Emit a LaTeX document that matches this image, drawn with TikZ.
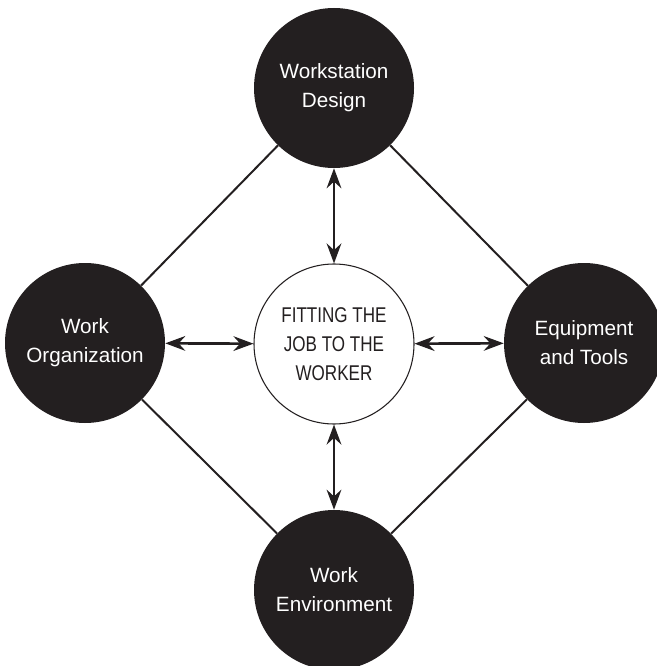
\documentclass[tikz,border=0pt]{standalone}
\usepackage{fontspec}
\setmainfont{Liberation Sans}
\newfontfamily\hubfont[FakeStretch=0.8]{Liberation Sans}
\usetikzlibrary{arrows.meta}
\definecolor{darkfill}{HTML}{231F20}

\begin{document}
\begin{tikzpicture}[x=0.75pt, y=-0.75pt,
    outer/.style={circle, fill=darkfill, minimum size=120pt, inner sep=0pt,
      text=white, align=center, font=\fontsize{15.5}{21.75}\selectfont},
    hub/.style={circle, draw=darkfill, line width=0.8pt, minimum size=120pt,
      inner sep=0pt, text=darkfill, align=center,
      font=\hubfont\fontsize{16}{21.75}\selectfont},
    link/.style={draw=darkfill, line width=1.5pt},
    twoway/.style={draw=darkfill, line width=2pt,
      {Stealth[length=15pt,width=11pt,inset=5pt]}-{Stealth[length=15pt,width=11pt,inset=5pt]}}]
  \useasboundingbox (0,0) rectangle (656,666);

  % Outer circles
  \node[outer] (ws) at (334,88) {Workstation\\Design};
  \node[outer] (wo) at (85,343) {Work\\Organization};
  \node[outer] (et) at (584,343) {Equipment\\and Tools};
  \node[outer] (we) at (334,590) {Work\\Environment};

  % Centre
  \node[hub] (fit) at (334,344) {FITTING THE\\JOB TO THE\\WORKER};

  % Diamond edges
  \draw[link] (ws) -- (wo);
  \draw[link] (ws) -- (et);
  \draw[link] (we) -- (wo);
  \draw[link] (we) -- (et);

  % Double arrows
  \draw[twoway] (ws) -- (fit);
  \draw[twoway] (wo) -- (fit);
  \draw[twoway] (et) -- (fit);
  \draw[twoway] (we) -- (fit);
\end{tikzpicture}
\end{document}
